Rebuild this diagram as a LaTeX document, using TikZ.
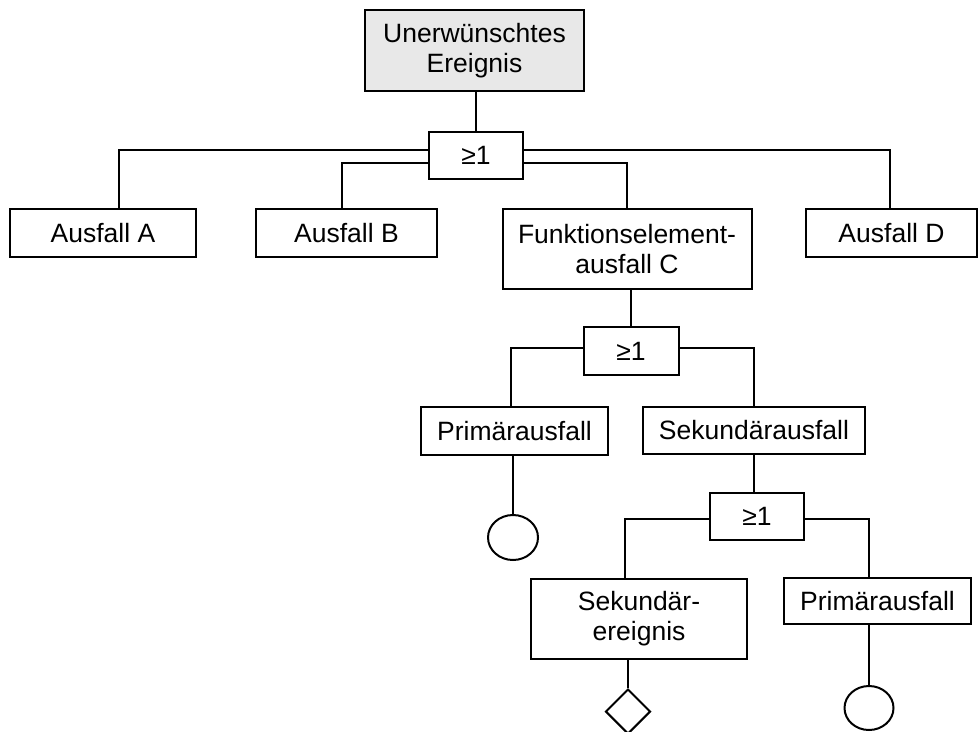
\documentclass[tikz,border=0pt]{standalone}
\usepackage{fontspec}
\setmainfont{Liberation Sans}
\usetikzlibrary{shapes.geometric}
\tikzset{
  box/.style={draw, line width=2pt, inner sep=0pt, align=center,
    font=\fontsize{26.5}{30}\selectfont},
  topevent/.style={box, fill=black!9},
  gate/.style={box, minimum width=94pt, minimum height=47pt},
  wire/.style={line width=2pt},
  basic/.style={draw, ellipse, line width=2pt, inner sep=0pt,
    minimum width=50pt, minimum height=45pt},
  undeveloped/.style={draw, diamond, line width=2pt, inner sep=0pt,
    minimum width=45pt, minimum height=45pt},
}
\begin{document}
\begin{tikzpicture}[x=1pt,y=-1pt]
\useasboundingbox (0,0) rectangle (979,731);

% top event and first OR gate
\node[topevent, minimum width=219pt, minimum height=81pt] (top) at (474.5,50.5) {Unerwünschtes\\Ereignis};
\node[gate] (g1) at (476,155.5) {≥1};

% first level events
\node[box, minimum width=186pt, minimum height=48pt] (A) at (103,233) {Ausfall A};
\node[box, minimum width=181pt, minimum height=48pt] (B) at (346.5,233) {Ausfall B};
\node[box, minimum width=249pt, minimum height=80pt] (C) at (627,249) {Funktionselement-\\ausfall C};
\node[box, minimum width=171pt, minimum height=48pt] (D) at (891.5,233) {Ausfall D};

% second OR gate below C
\node[gate, minimum width=95pt, minimum height=48pt] (g2) at (631,351) {≥1};
\node[box, minimum width=187pt, minimum height=48pt] (P1) at (514.5,431) {Primärausfall};
\node[box, minimum width=222pt, minimum height=47pt] (S) at (754,430.5) {Sekundärausfall};
\node[basic] (c1) at (513,537.5) {};

% third OR gate below the secondary failure
\node[gate] (g3) at (757,516.5) {≥1};
\node[box, minimum width=216pt, minimum height=80pt] (SE) at (639,619) {Sekundär-\\ereignis};
\node[box, minimum width=187pt, minimum height=46pt] (P2) at (877.5,601) {Primärausfall};
\node[undeveloped] (d1) at (628,711.5) {};
\node[basic, minimum width=49pt, minimum height=44pt] (c2) at (869,708) {};

% connectors
\draw[wire] (g1.north) -- (g1.north |- top.south);
\draw[wire] ([yshift=5.5pt]g1.west) -| ([xshift=16pt]A.north);
\draw[wire] ([yshift=-7.5pt]g1.west) -| ([xshift=-4.5pt]B.north);
\draw[wire] ([yshift=5.5pt]g1.east) -| ([xshift=-1.5pt]D.north);
\draw[wire] ([yshift=-7.5pt]g1.east) -| (C.north);

\draw[wire] (g2.north) -- (g2.north |- C.south);
\draw[wire] ([yshift=3pt]g2.west) -| ([xshift=-3.5pt]P1.north);
\draw[wire] ([yshift=3pt]g2.east) -| (S.north);
\draw[wire] (c1.north) -- (c1.north |- P1.south);

\draw[wire] (S.south) -- (S.south |- g3.north);
\draw[wire] ([yshift=-2.5pt]g3.west) -| ([xshift=-14pt]SE.north);
\draw[wire] ([yshift=-2.5pt]g3.east) -| ([xshift=-8.5pt]P2.north);
\draw[wire] (d1.north) -- (d1.north |- SE.south);
\draw[wire] (c2.north) -- (c2.north |- P2.south);
\end{tikzpicture}
\end{document}
